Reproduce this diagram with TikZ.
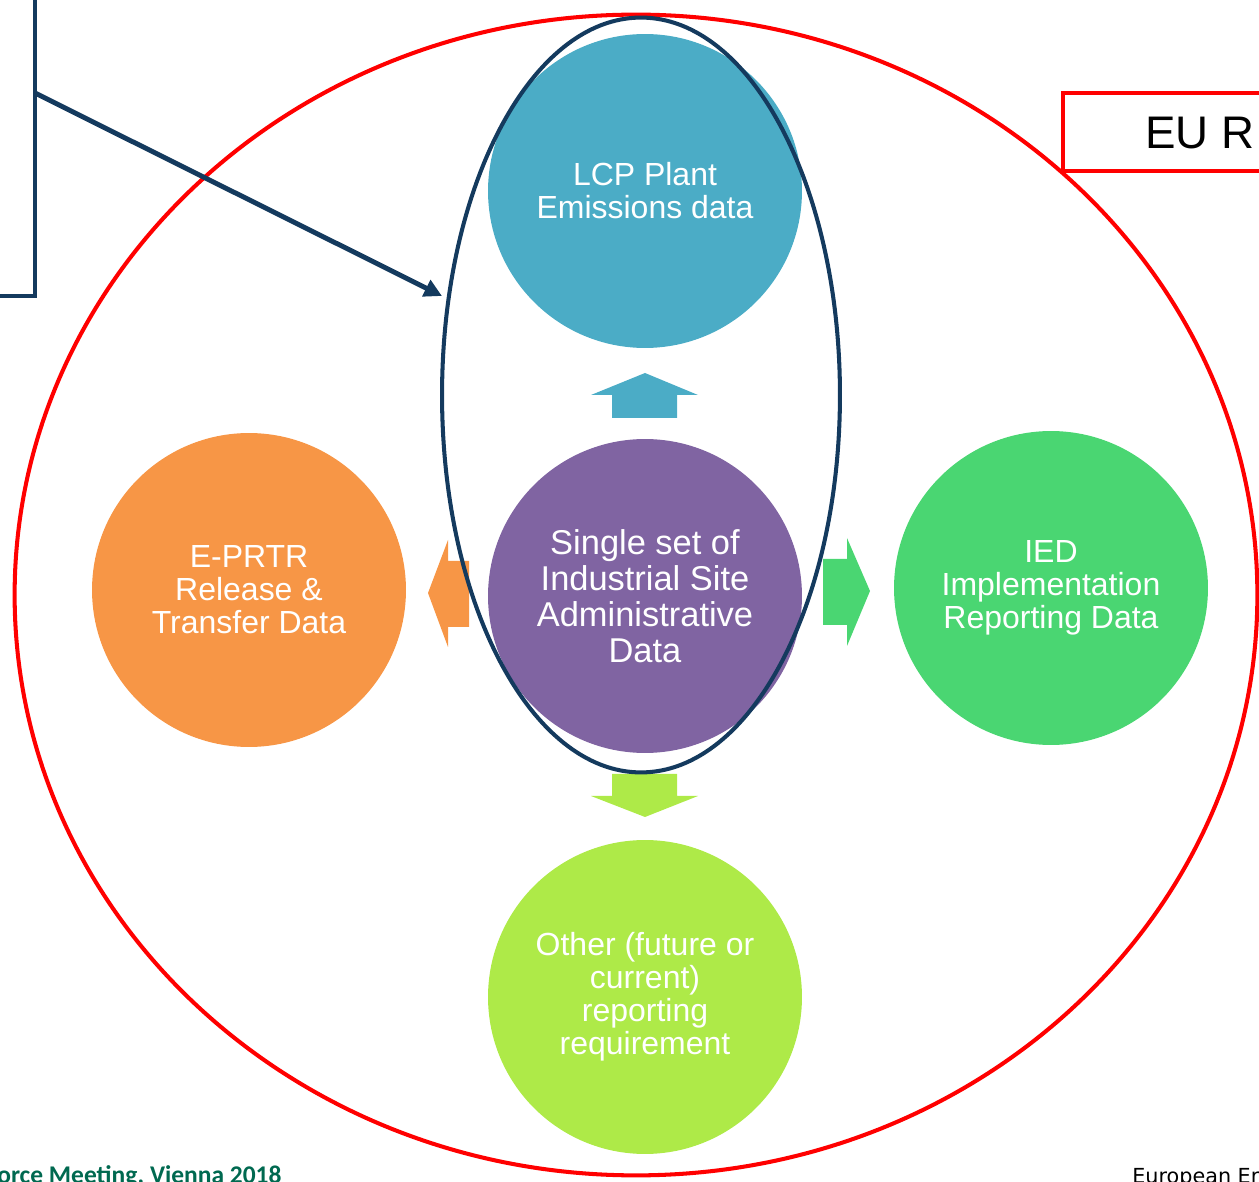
\documentclass[tikz,border=0pt]{standalone}
\usepackage{fontspec}
\setmainfont{Liberation Sans}
\newfontfamily\footfont{Carlito}
\newfontfamily\agencyfont{DejaVu Sans}
\usetikzlibrary{shapes.geometric,arrows.meta,positioning}

\definecolor{lcpblue}{RGB}{75,172,198}
\definecolor{corepurple}{RGB}{128,100,162}
\definecolor{prtrorange}{RGB}{247,150,70}
\definecolor{iedgreen}{RGB}{74,214,114}
\definecolor{otherlime}{RGB}{174,234,72}
\definecolor{scopenavy}{RGB}{20,58,94}
\definecolor{eured}{RGB}{255,0,0}
\definecolor{footgreen}{RGB}{0,105,80}

\begin{document}
\begin{tikzpicture}[x=0.02cm,y=-0.02cm,
  datacircle/.style={circle,minimum size=6.28cm,inner sep=0pt,text=white,align=center,
    font=\fontsize{18.2}{18.7}\selectfont},
  scopeline/.style={draw=scopenavy,line width=2.3pt}]
				\clip (0,0) rectangle (1259,1182);
				\useasboundingbox (0,0) rectangle (1259,1182);
				
				% EU reporting scope
				\node[ellipse,draw=eured,line width=2.3pt,minimum width=24.86cm,minimum height=23.22cm,inner sep=0pt] (euscope) at (636,595) {};
				
				% Data sets
				\node[datacircle,fill=lcpblue] (lcp) at (645,191) {LCP Plant\\Emissions data};
				\node[datacircle,fill=corepurple,font=\fontsize{19.6}{20.4}\selectfont] (core) at (645,596) {Single set of\\Industrial Site\\Administrative\\Data};
				\node[datacircle,fill=prtrorange] (prtr) at (249,590) {E-PRTR\\Release \&\\Transfer Data};
				\node[datacircle,fill=iedgreen] (ied) at (1051,588) {IED\\Implementation\\Reporting Data};
				\node[datacircle,fill=otherlime] (other) at (645,997) {Other (future or\\current)\\reporting\\requirement};
				
				% Block arrows
				\fill[lcpblue] (645,373) -- (698,395) -- (677,395) -- (677,418) -- (612,418) -- (612,395) -- (591,395) -- cycle;
				\fill[otherlime] (612,774) -- (677,774) -- (677,796) -- (698,796) -- (645,817) -- (591,796) -- (612,796) -- cycle;
				\fill[prtrorange] (428,593) -- (448,540) -- (448,561) -- (469,561) -- (469,627) -- (448,627) -- (448,647) -- cycle;
				\fill[iedgreen] (823,559) -- (847,559) -- (847,538) -- (870,591) -- (847,646) -- (847,625) -- (823,625) -- cycle;
				
				% LCP scope
				\node[ellipse,scopeline,minimum width=7.96cm,minimum height=15.1cm,inner sep=0pt] (lcpscope) at (641,395) {};
				
				% Callout
				\coordinate (callout) at (35,93);
				\coordinate (tip) at (442,296);
				\draw[scopeline] (35,-10) -- (35,296) -- (-10,296);
				\draw[scopeline,line width=2.8pt,-{Triangle[length=10pt,width=10pt]}] (callout) -- (tip);
				
				% EU box
				\draw[eured,line width=2.3pt] (1300,93) -- (1063,93) -- (1063,171) -- (1300,171);
				\node[anchor=base west,font=\fontsize{26}{30}\selectfont,inner sep=0pt] (eur) at (1145,149) {EU R};
				
				% Footer
				\node[anchor=base west,inner sep=0pt,text=footgreen,font=\footfont\bfseries\fontsize{14.5}{16}\selectfont] (meeting) at (-3,1183) {orce Meeting, Vienna 2018};
				\node[anchor=base west,inner sep=0pt,font=\agencyfont\fontsize{11.8}{13}\selectfont] (agency) at (1132,1183) {European Er};
			\end{tikzpicture}
\end{document}
